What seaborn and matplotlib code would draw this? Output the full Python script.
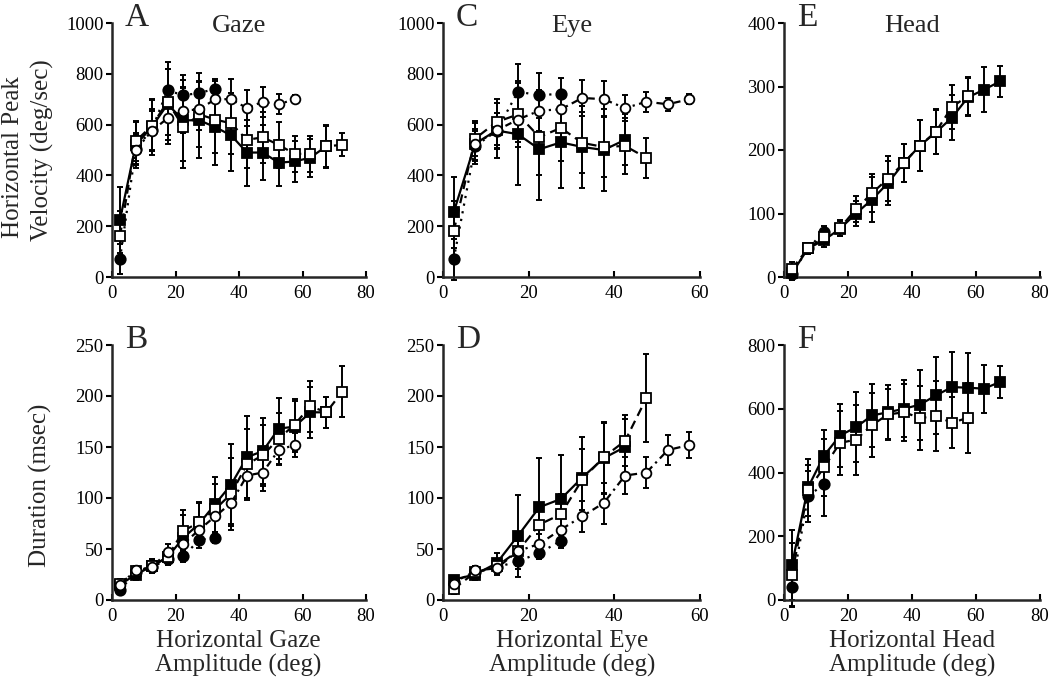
import numpy as np
import matplotlib
matplotlib.use("Agg")
import matplotlib.pyplot as plt
import seaborn as sns

# ---- data ----
bins = [2.5, 7.5, 12.5, 17.5, 22.5, 27.5, 32.5, 37.5, 42.5, 47.5, 52.5, 57.5, 62.5, 67.5, 72.5]

# A: gaze peak velocity
gaze_vel_fsq = [225, 520, 590, 680, 617, 617, 590, 558, 490, 490, 450, 455, 470, 515]
gaze_vel_fsq_err = [130, 90, 110, 140, 160, 150, 150, 140, 130, 110, 90, 80, 75, 85]
gaze_vel_osq = [160, 535, 595, 690, 590, 640, 620, 605, 540, 550, 520, 485, 485, 515, 520]
gaze_vel_osq_err = [100, 80, 100, 130, 160, 130, 130, 120, 110, 100, 90, 70, 70, 80, 45]
gaze_vel_ocirc_x = [7.5, 12.5, 17.5, 22.5, 27.5, 32.5, 37.5, 42.5, 47.5, 52.5, 57.5]
gaze_vel_ocirc = [500, 575, 625, 655, 660, 700, 700, 665, 690, 680, 700]
gaze_vel_ocirc_err = [60, 80, 100, 90, 80, 70, 80, 70, 60, 40, 15]
gaze_vel_fcirc_x = [2.5, 7.5, 12.5, 17.5, 22.5, 27.5, 32.5]
gaze_vel_fcirc = [70, 505, 580, 735, 715, 725, 740]
gaze_vel_fcirc_err = [60, 60, 80, 110, 80, 80, 40]

# B: gaze duration
gaze_dur_fsq = [15, 25, 33, 42, 61, 75, 94, 113, 140, 146, 168, 170, 184, 184]
gaze_dur_fsq_err = [5, 5, 7, 8, 22, 20, 27, 40, 40, 32, 30, 25, 25, 15]
gaze_dur_osq = [16, 28, 33, 42, 68, 76, 89, 104, 133, 142, 158, 172, 190, 184, 204]
gaze_dur_osq_err = [5, 5, 7, 8, 20, 20, 25, 35, 35, 30, 25, 25, 25, 15, 25]
gaze_dur_ocirc = [15, 29, 32, 47, 55, 69, 82, 95, 122, 125, 147, 152]
gaze_dur_ocirc_err = [4, 4, 6, 8, 10, 12, 15, 20, 22, 18, 15, 12]
gaze_dur_fcirc_x = [2.5, 7.5, 12.5, 17.5, 22.5, 27.5, 32.5]
gaze_dur_fcirc = [10, 27, 32, 40, 43, 59, 61]
gaze_dur_fcirc_err = [3, 4, 5, 6, 6, 8, 5]

# C: eye peak velocity
eye_vel_fsq = [255, 525, 577, 562, 503, 530, 512, 500, 540]
eye_vel_fsq_err = [140, 80, 110, 200, 200, 180, 160, 160, 100]
eye_vel_osq = [180, 545, 610, 640, 551, 587, 528, 512, 516, 469]
eye_vel_osq_err = [120, 70, 90, 130, 150, 130, 120, 120, 110, 80]
eye_vel_ocirc_x = [7.5, 12.5, 17.5, 22.5, 27.5, 32.5, 37.5, 42.5, 47.5, 52.5, 57.5]
eye_vel_ocirc = [522, 577, 620, 655, 660, 705, 700, 665, 690, 680, 700]
eye_vel_ocirc_err = [60, 70, 90, 80, 60, 70, 70, 50, 40, 25, 20]
eye_vel_fcirc_x = [2.5, 7.5, 12.5, 17.5, 22.5, 27.5]
eye_vel_fcirc = [70, 515, 575, 730, 715, 722]
eye_vel_fcirc_err = [80, 60, 70, 110, 90, 60]

# D: eye duration
eye_dur_fsq = [20, 25, 36, 63, 91, 99, 120, 139, 150]
eye_dur_fsq_err = [4, 5, 10, 40, 48, 43, 40, 35, 27]
eye_dur_osq = [11, 27, 33, 48, 74, 84, 118, 140, 156, 198]
eye_dur_osq_err = [5, 4, 7, 15, 20, 20, 30, 35, 25, 43]
eye_dur_ocirc = [16, 29, 31, 48, 55, 69, 82, 95, 122, 125, 147, 152]
eye_dur_ocirc_err = [4, 4, 6, 10, 10, 12, 15, 20, 18, 15, 15, 13]
eye_dur_fcirc_x = [2.5, 7.5, 12.5, 17.5, 22.5, 27.5]
eye_dur_fcirc = [18, 27, 32, 38, 46, 58]
eye_dur_fcirc_err = [4, 4, 5, 8, 6, 7]

# E: head peak velocity
head_vel_fsq = [6, 45, 58, 76, 100, 122, 148, 180, 207, 228, 251, 283, 295, 308]
head_vel_fsq_err = [10, 8, 10, 12, 20, 35, 35, 30, 40, 35, 35, 30, 35, 25]
head_vel_osq = [13, 45, 63, 77, 107, 132, 155, 180, 207, 229, 268, 285]
head_vel_osq_err = [10, 8, 10, 12, 20, 30, 35, 30, 40, 35, 35, 30]
head_vel_fcirc_x = [2.5, 7.5, 12.5]
head_vel_fcirc = [5, 45, 71]
head_vel_fcirc_err = [5, 6, 10]

# F: head duration
head_dur_fsq = [111, 353, 453, 516, 542, 579, 589, 600, 613, 642, 668, 666, 663, 684]
head_dur_fsq_err = [110, 90, 80, 100, 110, 100, 85, 90, 110, 120, 110, 110, 75, 50]
head_dur_osq = [79, 345, 416, 493, 503, 549, 582, 589, 571, 577, 556, 572]
head_dur_osq_err = [100, 80, 90, 100, 110, 100, 80, 90, 100, 110, 80, 110]
head_dur_fcirc_x = [2.5, 7.5, 12.5]
head_dur_fcirc = [40, 326, 363]
head_dur_fcirc_err = [60, 80, 100]

sns.set_theme(style="ticks")
plt.rcParams["font.family"] = ["Liberation Serif", "DejaVu Serif"]
plt.rcParams["axes.linewidth"] = 1.8

STYLES = {
    "fsq": dict(marker="s", mfc="black", ls="-", ms=6.5, z=3),
    "osq": dict(marker="s", mfc="white", ls=(0, (4, 2.5)), ms=6.5, z=3.2),
    "ocirc": dict(marker="o", mfc="white", ls=(0, (3, 2, 1, 2)), ms=7, z=3.4),
    "fcirc": dict(marker="o", mfc="black", ls=(0, (1, 2.5)), ms=7.5, z=2.8),
}


def draw_series(ax, x, y, err, kind):
    st = STYLES[kind]
    ax.errorbar(x, y, yerr=err, fmt="none", ecolor="black", elinewidth=1.4,
                capsize=2.2, capthick=1.4, zorder=2, clip_on=False)
    sns.lineplot(x=x, y=y, ax=ax, color="black", lw=1.6, marker=st["marker"],
                 markersize=st["ms"], markerfacecolor=st["mfc"],
                 markeredgecolor="black", markeredgewidth=1.3,
                 errorbar=None, sort=False, zorder=st["z"], clip_on=False)
    ax.lines[-1].set_linestyle(st["ls"])


def style_axes(ax, xmax, ymax, ystep, letter, title=None):
    ax.set_xlim(0, xmax)
    ax.set_ylim(0, ymax)
    ax.set_xticks(np.arange(0, xmax + 1, 20))
    ax.set_yticks(np.arange(0, ymax + 1, ystep))
    sns.despine(ax=ax)
    ax.tick_params(axis="x", direction="in", length=4, width=1.5, labelsize=13.5, pad=6, colors="black")
    ax.tick_params(axis="y", direction="out", length=4, width=1.5, labelsize=13.5, pad=2, colors="black")
    ax.set_xlabel("")
    ax.set_ylabel("")
    ax.text(0.05, 1.02, letter, transform=ax.transAxes, fontsize=24, va="center", ha="left")
    if title:
        ax.text(0.50, 0.99, title, transform=ax.transAxes, fontsize=19, va="center", ha="center")


fig = plt.figure(figsize=(10.5, 6.93), dpi=100)
W, H = 1050, 693


def make_ax(left, top, width, height):
    return fig.add_axes([left / W, 1 - (top + height) / H, width / W, height / H])


axA = make_ax(112, 23, 254, 254)
axC = make_ax(443, 23, 257, 254)
axE = make_ax(784, 23, 256, 254)
axB = make_ax(112, 345, 254, 255)
axD = make_ax(443, 345, 257, 255)
axF = make_ax(784, 345, 256, 255)

x14, x15 = bins[:14], bins[:15]

# A
draw_series(axA, gaze_vel_fcirc_x, gaze_vel_fcirc, gaze_vel_fcirc_err, "fcirc")
draw_series(axA, x14, gaze_vel_fsq, gaze_vel_fsq_err, "fsq")
draw_series(axA, x15, gaze_vel_osq, gaze_vel_osq_err, "osq")
draw_series(axA, gaze_vel_ocirc_x, gaze_vel_ocirc, gaze_vel_ocirc_err, "ocirc")
style_axes(axA, 80, 1000, 200, "A", "Gaze")

# B
draw_series(axB, gaze_dur_fcirc_x, gaze_dur_fcirc, gaze_dur_fcirc_err, "fcirc")
draw_series(axB, x14, gaze_dur_fsq, gaze_dur_fsq_err, "fsq")
draw_series(axB, x15, gaze_dur_osq, gaze_dur_osq_err, "osq")
draw_series(axB, bins[:12], gaze_dur_ocirc, gaze_dur_ocirc_err, "ocirc")
style_axes(axB, 80, 250, 50, "B")

# C
draw_series(axC, eye_vel_fcirc_x, eye_vel_fcirc, eye_vel_fcirc_err, "fcirc")
draw_series(axC, bins[:9], eye_vel_fsq, eye_vel_fsq_err, "fsq")
draw_series(axC, bins[:10], eye_vel_osq, eye_vel_osq_err, "osq")
draw_series(axC, eye_vel_ocirc_x, eye_vel_ocirc, eye_vel_ocirc_err, "ocirc")
style_axes(axC, 60, 1000, 200, "C", "Eye")

# D
draw_series(axD, eye_dur_fcirc_x, eye_dur_fcirc, eye_dur_fcirc_err, "fcirc")
draw_series(axD, bins[:9], eye_dur_fsq, eye_dur_fsq_err, "fsq")
draw_series(axD, bins[:10], eye_dur_osq, eye_dur_osq_err, "osq")
draw_series(axD, bins[:12], eye_dur_ocirc, eye_dur_ocirc_err, "ocirc")
style_axes(axD, 60, 250, 50, "D")

# E
draw_series(axE, head_vel_fcirc_x, head_vel_fcirc, head_vel_fcirc_err, "fcirc")
draw_series(axE, x14, head_vel_fsq, head_vel_fsq_err, "fsq")
draw_series(axE, bins[:12], head_vel_osq, head_vel_osq_err, "osq")
style_axes(axE, 80, 400, 100, "E", "Head")

# F
draw_series(axF, head_dur_fcirc_x, head_dur_fcirc, head_dur_fcirc_err, "fcirc")
draw_series(axF, x14, head_dur_fsq, head_dur_fsq_err, "fsq")
draw_series(axF, bins[:12], head_dur_osq, head_dur_osq_err, "osq")
style_axes(axF, 80, 800, 200, "F")

# axis labels
fig.text(13 / W, 1 - 157 / H, "Horizontal Peak", rotation=90, fontsize=18, ha="center", va="center")
fig.text(42 / W, 1 - 150 / H, "Velocity (deg/sec)", rotation=90, fontsize=18, ha="center", va="center")
fig.text(40 / W, 1 - 485 / H, "Duration (msec)", rotation=90, fontsize=18, ha="center", va="center")
for xc, word in [(238, "Gaze"), (572, "Eye"), (912, "Head")]:
    fig.text(xc / W, 1 - 641 / H, f"Horizontal {word}", fontsize=18, ha="center", va="center")
    fig.text(xc / W, 1 - 665 / H, "Amplitude (deg)", fontsize=18, ha="center", va="center")

fig.savefig("out.png", dpi=100, facecolor="white")
